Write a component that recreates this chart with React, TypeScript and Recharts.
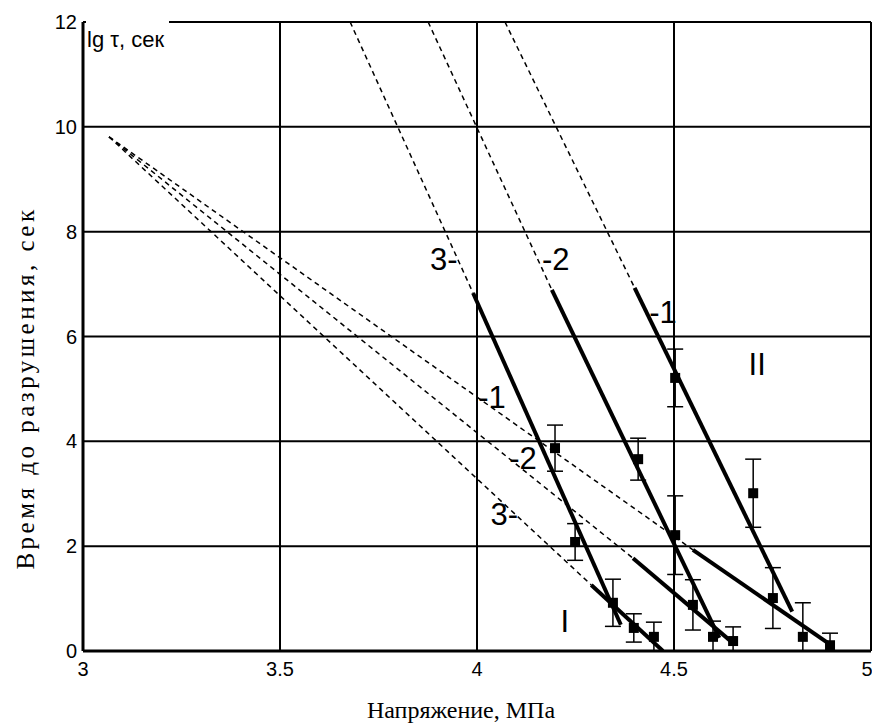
import { ComposedChart, Line, Scatter, ErrorBar, XAxis, YAxis, CartesianGrid } from "recharts";

const xTicks = [3, 3.5, 4, 4.5, 5];
const yTicks = [0, 2, 4, 6, 8, 10, 12];

// steep group (II): dashed extrapolation + solid fit
const dashII3 = [{ x: 3.678, y: 12 }, { x: 3.99, y: 6.83 }];
const dashII2 = [{ x: 3.876, y: 12 }, { x: 4.19, y: 6.89 }];
const dashII1 = [{ x: 4.071, y: 12 }, { x: 4.4, y: 6.93 }];
const solidII3 = [{ x: 3.99, y: 6.83 }, { x: 4.365, y: 0.5 }];
const solidII2 = [{ x: 4.19, y: 6.89 }, { x: 4.615, y: 0.25 }];
const solidII1 = [{ x: 4.4, y: 6.93 }, { x: 4.8, y: 0.75 }];

// shallow group (I)
const dashI1 = [{ x: 3.066, y: 9.81 }, { x: 4.548, y: 1.93 }];
const dashI2 = [{ x: 3.066, y: 9.81 }, { x: 4.396, y: 1.77 }];
const dashI3 = [{ x: 3.066, y: 9.81 }, { x: 4.29, y: 1.26 }];
const solidI1 = [{ x: 4.548, y: 1.93 }, { x: 4.905, y: 0.08 }];
const solidI2 = [{ x: 4.396, y: 1.77 }, { x: 4.65, y: 0.15 }];
const solidI3 = [{ x: 4.29, y: 1.26 }, { x: 4.472, y: 0 }];

// measured points, err = [down, up]
const pts3 = [
  { x: 4.198, y: 3.87, err: [0.44, 0.44] },
  { x: 4.249, y: 2.08, err: [0.35, 0.35] },
  { x: 4.345, y: 0.92, err: [0.45, 0.45] },
  { x: 4.398, y: 0.44, err: [0.27, 0.27] },
  { x: 4.449, y: 0.27, err: [0.27, 0.28] },
];
const pts2 = [
  { x: 4.409, y: 3.66, err: [0.4, 0.4] },
  { x: 4.503, y: 2.21, err: [0.75, 0.75] },
  { x: 4.548, y: 0.88, err: [0.48, 0.48] },
  { x: 4.599, y: 0.27, err: [0.27, 0.3] },
  { x: 4.65, y: 0.19, err: [0.19, 0.27] },
];
const pts1 = [
  { x: 4.503, y: 5.21, err: [0.55, 0.55] },
  { x: 4.701, y: 3.01, err: [0.65, 0.65] },
  { x: 4.751, y: 1.01, err: [0.58, 0.58] },
  { x: 4.827, y: 0.27, err: [0.27, 0.65] },
  { x: 4.896, y: 0.11, err: [0.11, 0.23] },
];

const labels = [
  { x: 3.916, y: 7.46, text: "3-" },
  { x: 4.2, y: 7.46, text: "-2" },
  { x: 4.472, y: 6.45, text: "-1" },
  { x: 4.038, y: 4.83, text: "-1" },
  { x: 4.117, y: 3.68, text: "-2" },
  { x: 4.069, y: 2.6, text: "3-" },
  { x: 4.223, y: 0.57, text: "I" },
  { x: 4.711, y: 5.46, text: "II" },
];

const sans = "'Liberation Sans', Arial, sans-serif";
const serif = "'Liberation Serif', 'Times New Roman', serif";

const Square = (p: any) => <rect x={p.cx - 5} y={p.cy - 5} width={10} height={10} fill="#000" />;
const Tag = (p: any) => (
  <text x={p.cx} y={p.cy} textAnchor="middle" dominantBaseline="central" fontFamily={sans} fontSize={31} fill="#000">
    {p.payload.text}
  </text>
);

const dashed = [dashII3, dashII2, dashII1, dashI1, dashI2, dashI3];
const solid = [solidII3, solidII2, solidII1, solidI1, solidI2, solidI3];

export default function App() {
  return (
    <div style={{ position: "absolute", left: 0, top: 0, width: 872, height: 724, background: "#fff" }}>
      <ComposedChart width={872} height={724} margin={{ top: 22, right: 1, bottom: 33, left: 23 }}>
        <CartesianGrid stroke="#000" strokeWidth={2} />
        <XAxis
          type="number"
          dataKey="x"
          domain={[3, 5]}
          ticks={xTicks}
          allowDataOverflow
          height={40}
          tickSize={0}
          tickMargin={11}
          axisLine={{ stroke: "#000", strokeWidth: 3 }}
          tick={{ fill: "#000", fontFamily: sans, fontSize: 20 }}
        />
        <YAxis
          type="number"
          dataKey="y"
          domain={[0, 12]}
          ticks={yTicks}
          allowDataOverflow
          width={60}
          tickSize={0}
          tickMargin={6}
          axisLine={{ stroke: "#000", strokeWidth: 3 }}
          tick={{ fill: "#000", fontFamily: sans, fontSize: 20 }}
        />
        {dashed.map((d, i) => (
          <Line key={"d" + i} data={d} dataKey="y" type="linear" stroke="#000" strokeWidth={1.5} strokeDasharray="5 4" dot={false} isAnimationActive={false} />
        ))}
        {solid.map((d, i) => (
          <Line key={"s" + i} data={d} dataKey="y" type="linear" stroke="#000" strokeWidth={4} dot={false} isAnimationActive={false} />
        ))}
        {[pts3, pts2, pts1].map((d, i) => (
          <Scatter key={"p" + i} data={d} dataKey="y" shape={Square} isAnimationActive={false}>
            <ErrorBar dataKey="err" direction="y" width={8} stroke="#000" strokeWidth={1.5} />
          </Scatter>
        ))}
        <Scatter data={labels} dataKey="y" shape={Tag} isAnimationActive={false} />
      </ComposedChart>
      <svg width={872} height={724} style={{ position: "absolute", left: 0, top: 0, pointerEvents: "none" }}>
        <rect x={86} y={10} width={83} height={18} fill="#fff" />
        <text x={87} y={47} fontFamily={sans} fontSize={22} fill="#000">lg τ, сек</text>
        <text x={461} y={718} textAnchor="middle" fontFamily={serif} fontSize={24} fill="#000">Напряжение, МПа</text>
        <text transform="rotate(-90)" x={-388} y={34} textAnchor="middle" fontFamily={serif} fontSize={25} letterSpacing={3.5} fill="#000">Время до разрушения, сек</text>
      </svg>
    </div>
  );
}
